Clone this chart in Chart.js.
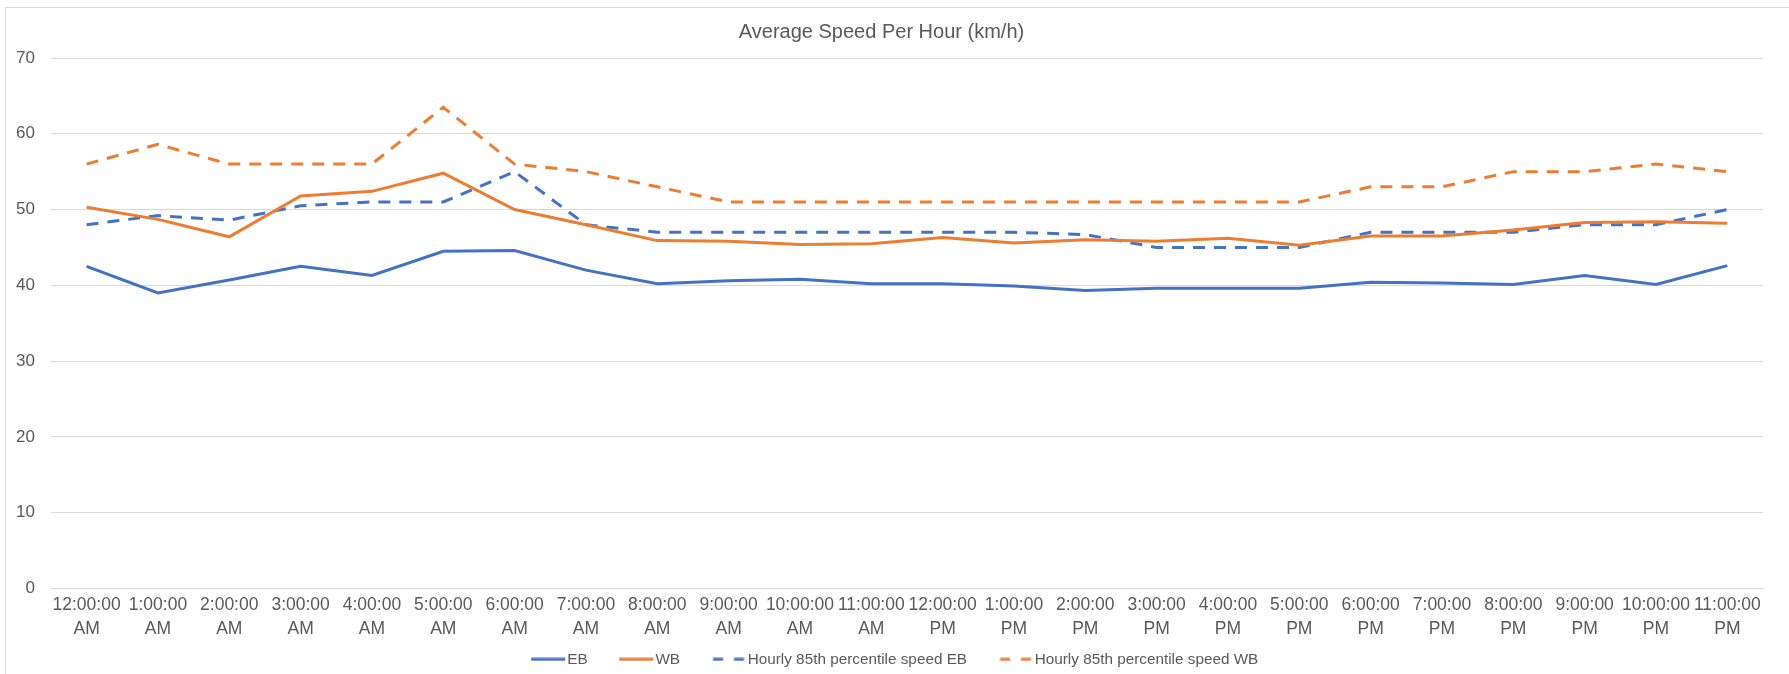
<!DOCTYPE html>
<html>
<head>
<meta charset="utf-8">
<title>Average Speed Per Hour</title>
<script src="https://cdn.jsdelivr.net/npm/chart.js@4"></script>
<style>
    html, body { margin: 0; padding: 0; background: #fff; }
    #wrap { position: relative; width: 1789px; height: 674px; overflow: hidden; }
    #frame {
        position: absolute; left: 5px; top: 7px; width: 1800px; height: 700px;
        border-left: 1px solid #d9d9d9; border-top: 1px solid #d9d9d9;
    }
    #speedChart { position: absolute; left: 0; top: 0; }
</style>
</head>
<body>
<div id="wrap">
    <div id="frame"></div>
    <canvas id="speedChart" width="1789" height="674"></canvas>
</div>
<script>
// Hour labels (two lines each, like the original axis)
const hours = [
    ['12:00:00', 'AM'], ['1:00:00', 'AM'], ['2:00:00', 'AM'], ['3:00:00', 'AM'],
    ['4:00:00', 'AM'], ['5:00:00', 'AM'], ['6:00:00', 'AM'], ['7:00:00', 'AM'],
    ['8:00:00', 'AM'], ['9:00:00', 'AM'], ['10:00:00', 'AM'], ['11:00:00', 'AM'],
    ['12:00:00', 'PM'], ['1:00:00', 'PM'], ['2:00:00', 'PM'], ['3:00:00', 'PM'],
    ['4:00:00', 'PM'], ['5:00:00', 'PM'], ['6:00:00', 'PM'], ['7:00:00', 'PM'],
    ['8:00:00', 'PM'], ['9:00:00', 'PM'], ['10:00:00', 'PM'], ['11:00:00', 'PM']
];

// Average speeds (km/h)
const ebSpeed = [42.5, 39.0, 40.7, 42.5, 41.3, 44.5, 44.6, 42.0, 40.2, 40.6, 40.8, 40.2,
                 40.2, 39.9, 39.3, 39.6, 39.6, 39.6, 40.4, 40.3, 40.1, 41.3, 40.1, 42.6];
const wbSpeed = [50.3, 48.7, 46.4, 51.8, 52.4, 54.8, 50.0, 48.0, 45.9, 45.8, 45.4, 45.5,
                 46.3, 45.6, 46.0, 45.8, 46.2, 45.3, 46.5, 46.5, 47.3, 48.3, 48.4, 48.2];

// Hourly 85th percentile speeds (km/h)
const eb85th = [48.0, 49.2, 48.6, 50.5, 51.0, 51.0, 55.0, 48.0, 47.0, 47.0, 47.0, 47.0,
                47.0, 47.0, 46.7, 45.0, 45.0, 45.0, 47.0, 47.0, 47.0, 48.0, 48.0, 50.0];
const wb85th = [56.0, 58.6, 56.0, 56.0, 56.0, 63.5, 56.0, 55.0, 53.0, 51.0, 51.0, 51.0,
                51.0, 51.0, 51.0, 51.0, 51.0, 51.0, 53.0, 53.0, 55.0, 55.0, 56.0, 55.0];

const BLUE = '#4472c4';
const ORANGE = '#ed7d31';
const TEXT = '#595959';
const FONT = "'Liberation Sans', Arial, sans-serif";

// legend icon: blank lead-in (acts as item spacing) then a solid or dashed stroke
function legendIcon(color, dashed) {
    const c = document.createElement('canvas');
    c.width = 68;
    c.height = 4;
    const g = c.getContext('2d');
    g.fillStyle = color;
    if (dashed) {
        g.fillRect(34.5, 0.5, 10, 3);
        g.fillRect(55.5, 0.5, 10, 3);
    } else {
        g.fillRect(33, 0.5, 34, 3);
    }
    return c;
}

function lineSet(label, data, color, dashed) {
    return {
        label: label,
        data: data,
        borderColor: color,
        backgroundColor: color,
        borderWidth: 3,
        borderDash: dashed ? [12, 9] : [],
        pointStyle: legendIcon(color, dashed),
        pointRadius: 0,
        pointHoverRadius: 0,
        tension: 0,
        fill: false
    };
}

new Chart(document.getElementById('speedChart'), {
    type: 'line',
    data: {
        labels: hours,
        datasets: [
            lineSet('EB', ebSpeed, BLUE, false),
            lineSet('WB', wbSpeed, ORANGE, false),
            lineSet('Hourly 85th percentile speed EB', eb85th, BLUE, true),
            lineSet('Hourly 85th percentile speed WB', wb85th, ORANGE, true)
        ]
    },
    options: {
        responsive: false,
        animation: false,
        devicePixelRatio: 1,
        layout: { padding: { top: 8, left: 0, right: 26, bottom: -3 } },
        plugins: {
            tooltip: { enabled: false },
            title: {
                display: true,
                text: 'Average Speed Per Hour (km/h)',
                color: TEXT,
                font: { family: FONT, size: 20, weight: 'normal', lineHeight: 1.2 },
                padding: { top: 12, bottom: 14 }
            },
            legend: {
                position: 'bottom',
                labels: {
                    color: TEXT,
                    font: { family: FONT, size: 15.3 },
                    usePointStyle: true,
                    pointStyleWidth: 55,
                    padding: 5
                }
            }
        },
        scales: {
            x: {
                offset: true,
                grid: { display: false, drawTicks: false },
                border: { display: true, color: '#d9d9d9' },
                ticks: {
                    color: TEXT,
                    font: { family: FONT, size: 17.5, lineHeight: 1.38 },
                    maxRotation: 0,
                    autoSkip: false,
                    padding: 5
                }
            },
            y: {
                min: 0,
                max: 70,
                grid: { color: '#d9d9d9', lineWidth: 1, drawTicks: false },
                border: { display: false },
                ticks: {
                    stepSize: 10,
                    color: TEXT,
                    font: { family: FONT, size: 17 },
                    padding: 16
                }
            }
        }
    }
});
</script>
</body>
</html>
